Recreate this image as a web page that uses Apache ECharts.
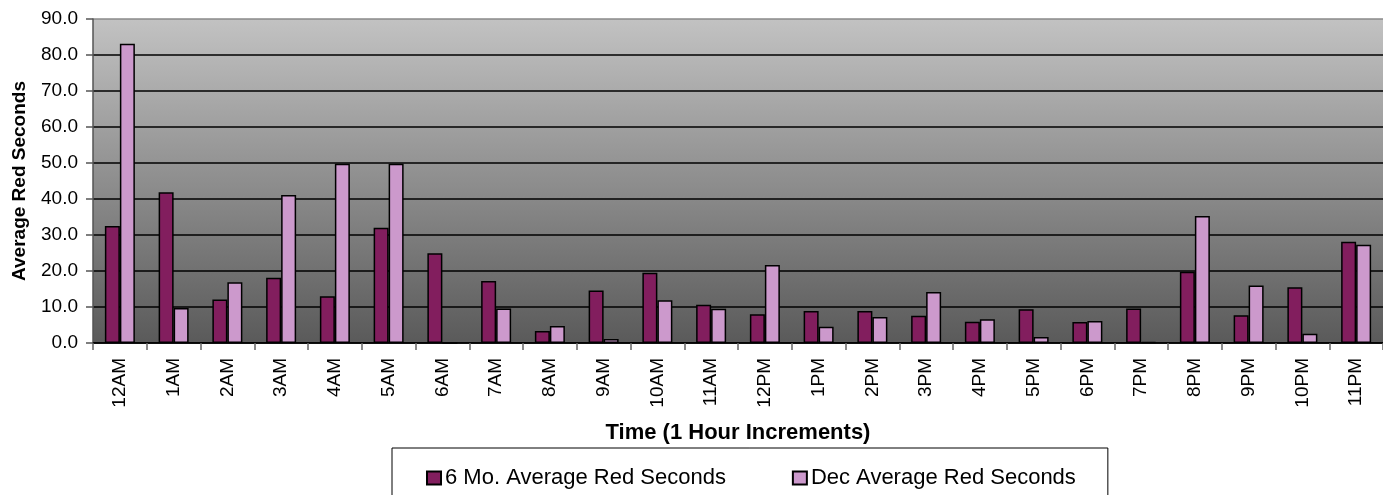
<!DOCTYPE html>
<html>
<head>
<meta charset="utf-8">
<script src="https://cdn.jsdelivr.net/npm/echarts@6/dist/echarts.min.js"></script>
<style>
html,body{margin:0;padding:0;background:#fff;}
#chart{width:1383px;height:495px;}
</style>
</head>
<body>
<div id="chart"></div>
<script>
var categories = ['12AM','1AM','2AM','3AM','4AM','5AM','6AM','7AM','8AM','9AM','10AM','11AM','12PM','1PM','2PM','3PM','4PM','5PM','6PM','7PM','8PM','9PM','10PM','11PM'];
var sixMonthAvg = [32.5, 41.9, 12.1, 18.1, 13.0, 32.0, 24.9, 17.2, 3.3, 14.6, 19.5, 10.6, 8.0, 8.9, 8.9, 7.6, 5.9, 9.4, 5.8, 9.6, 19.8, 7.7, 15.5, 28.1];
var decAvg = [83.1, 9.7, 16.9, 41.1, 49.8, 49.8, 0, 9.6, 4.7, 1.1, 11.9, 9.5, 21.7, 4.5, 7.2, 14.2, 6.6, 1.7, 6.1, 0.3, 35.3, 16.0, 2.6, 27.3];
var seriesNames = ['6 Mo. Average Red Seconds', 'Dec Average Red Seconds'];

var FONT = "'Liberation Sans', Arial, sans-serif";
var chart = echarts.init(document.getElementById('chart'), null, {renderer: 'canvas'});
var splitColors = ['#000','#000','#000','#000','#000','#000','#000','#000','#000','#8a8a8a'];
chart.setOption({
  animation: false,
  backgroundColor: '#fff',
  grid: {
    left: 93, top: 19, width: 1299, height: 324,
    show: true,
    borderWidth: 0,
    backgroundColor: {type: 'linear', x: 0, y: 0, x2: 0, y2: 1,
      colorStops: [{offset: 0, color: '#c2c2c2'}, {offset: 1, color: '#5a5a5a'}]}
  },
  legend: {
    left: 392, top: 448,
    orient: 'horizontal',
    padding: [19, 32, 20, 34],
    itemGap: 66,
    itemWidth: 14, itemHeight: 13,
    borderColor: '#000', borderWidth: 1,
    icon: 'rect',
    textStyle: {fontFamily: FONT, fontSize: 22, color: '#000', padding: [0,0,0,-1]},
    data: seriesNames
  },
  xAxis: {
    type: 'category',
    data: categories,
    name: 'Time (1 Hour Increments)',
    nameLocation: 'middle',
    nameGap: 79,
    nameTextStyle: {fontFamily: FONT, fontSize: 22, fontWeight: 'bold', color: '#000'},
    axisLine: {lineStyle: {color: '#000', width: 1.5}},
    axisTick: {show: true, length: 7, lineStyle: {color: '#666', width: 1.5}},
    axisLabel: {rotate: 90, margin: 15, fontFamily: FONT, fontSize: 19, color: '#000'}
  },
  yAxis: {
    type: 'value',
    min: 0, max: 90, interval: 10,
    name: 'Average Red Seconds',
    nameLocation: 'middle',
    nameGap: 64,
    nameTextStyle: {fontFamily: FONT, fontSize: 19, fontWeight: 'bold', color: '#000'},
    axisLine: {show: true, lineStyle: {color: '#555', width: 1.5}},
    axisTick: {show: true, length: 7, lineStyle: {color: '#555', width: 1.5}},
    axisLabel: {margin: 15, fontFamily: FONT, fontSize: 19, color: '#000',
      formatter: function (v) { return v.toFixed(1); }},
    splitLine: {show: true, lineStyle: {color: splitColors, width: 1.5}}
  },
  series: [
    {
      name: seriesNames[0], type: 'bar', data: sixMonthAvg,
      barWidth: 15, barGap: '0%',
      itemStyle: {color: '#821e5e', borderColor: '#000', borderWidth: 1.5}
    },
    {
      name: seriesNames[1], type: 'bar', data: decAvg,
      barWidth: 15, barGap: '0%',
      itemStyle: {color: '#cc99cc', borderColor: '#000', borderWidth: 1.5}
    }
  ]
});
</script>
</body>
</html>
